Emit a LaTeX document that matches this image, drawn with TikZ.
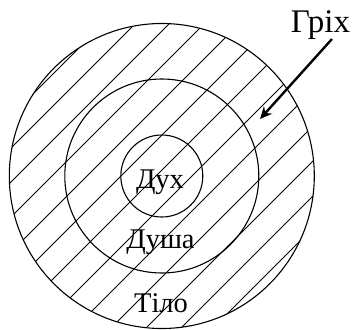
\documentclass[tikz,border=0pt]{standalone}
\usepackage{fontspec}
\setmainfont{Liberation Serif}
\usetikzlibrary{arrows.meta}
\begin{document}
\begin{tikzpicture}[x=1pt,y=-1pt,
  ring/.style={draw=black,line width=1.1pt},
  hatch/.style={draw=black,line width=1pt},
  lbl/.style={anchor=base,inner sep=0pt,font=\fontsize{28.5}{31}\selectfont},
  arr/.style={line width=2.4pt,-{Stealth[length=12pt,width=11pt]}}]
\useasboundingbox (0,0) rectangle (352,329);
\coordinate (O) at (161.8,176);
\begin{scope}
  \clip (O) circle (152.5);
  \foreach \c in {127,159,193,228,263,297,332,368,403,439,474,509,541}{
    \draw[hatch] (\c,0) -- ({\c-360},360);
  }
\end{scope}
\draw[ring] (O) circle (152.5);
\draw[ring] (O) circle (97);
\draw[ring] (O) circle (41);
\node[lbl] (dukh) at (160,188) {Дух};
\node[lbl] (dusha) at (160.5,248) {Душа};
\node[lbl] (tilo) at (161,312) {Тіло};
\node[lbl,font=\fontsize{33}{36}\selectfont] (grikh) at (320.5,33) {Гріх};
\coordinate (aS) at (332,39);
\coordinate (aE) at (260,119);
\draw[arr] (aS) -- (aE);
\end{tikzpicture}
\end{document}
